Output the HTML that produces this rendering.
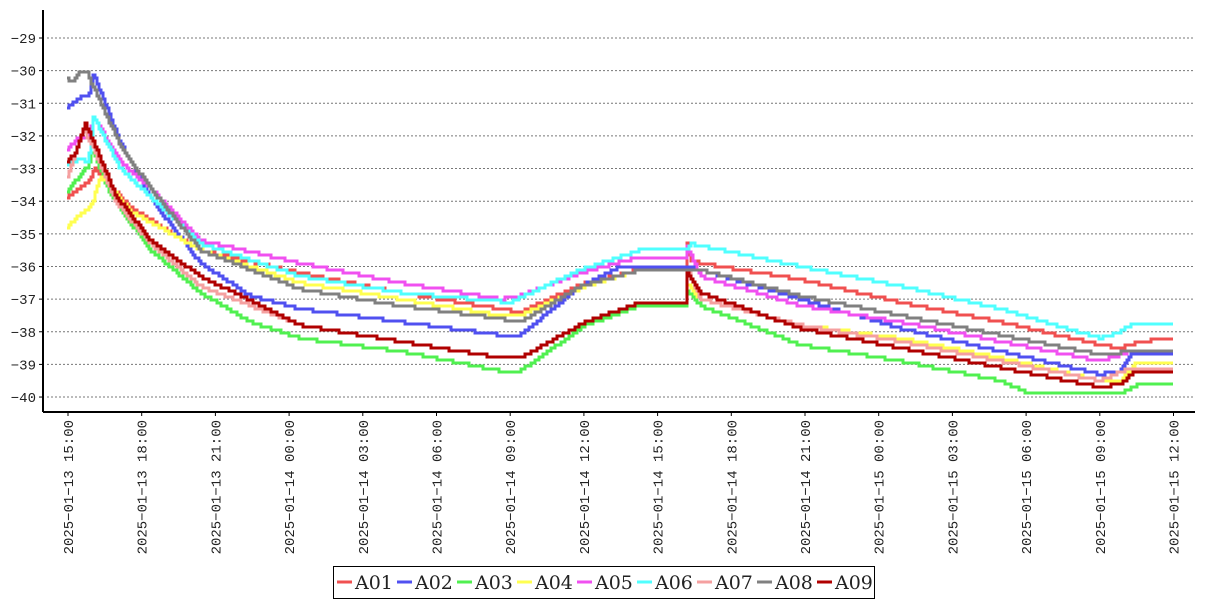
<!DOCTYPE html>
<html><head><meta charset="utf-8"><style>
body{margin:0;background:#fff;width:1207px;height:600px;overflow:hidden}
svg{display:block}
.tk{font-family:"Liberation Mono","DejaVu Sans Mono",monospace;font-size:14px;fill:#222}
.lg{font-family:"DejaVu Serif","Liberation Serif",serif;font-size:19px;fill:#222}
</style></head><body>
<svg id="s" width="1207" height="600" xmlns="http://www.w3.org/2000/svg">
<g id="grid"></g>
<g id="series" fill="none" stroke-width="3" stroke-linejoin="miter"></g>
<line x1="43" y1="10" x2="43" y2="412" stroke="#000" stroke-width="2"/>
<line x1="43" y1="412" x2="1195" y2="412" stroke="#000" stroke-width="2"/>
<g id="labels"></g>
<rect x="333.5" y="566.5" width="541" height="32" fill="#fff" stroke="#000"/>
<g id="legend"></g>
</svg>
<script>
var NS="http://www.w3.org/2000/svg";
function el(t,a,p,txt){var e=document.createElementNS(NS,t);for(var k in a)e.setAttribute(k,a[k]);if(txt!==undefined)e.textContent=txt;document.getElementById(p).appendChild(e);return e;}
function Y(v){return 38+(-29-v)*32.64;}
for(var v=-29;v>=-40;v--){var y=Y(v);
el('line',{x1:47,x2:1195,y1:y,y2:y,stroke:'#777','stroke-dasharray':'2,2','stroke-width':1},'grid');
el('line',{x1:39,x2:43,y1:y,y2:y,stroke:'#000'},'grid');
el('text',{x:36,y:y+5,'text-anchor':'end',class:'tk'},'labels',String(v).replace('-','−'));}
var labs=["2025-01-13 15:00","2025-01-13 18:00","2025-01-13 21:00","2025-01-14 00:00","2025-01-14 03:00","2025-01-14 06:00","2025-01-14 09:00","2025-01-14 12:00","2025-01-14 15:00","2025-01-14 18:00","2025-01-14 21:00","2025-01-15 00:00","2025-01-15 03:00","2025-01-15 06:00","2025-01-15 09:00","2025-01-15 12:00"];
for(var i=0;i<16;i++){var x=68+i*73.7;
el('line',{x1:x,x2:x,y1:412,y2:416,stroke:'#000'},'labels');
el('text',{x:0,y:0,transform:'translate('+(x+5)+',420) rotate(-90)','text-anchor':'end',class:'tk'},'labels',labs[i].replace(/-/g,'−'));}
var S=[
["A01","#f05050",[[67,-33.9],[80,-33.6],[88,-33.4],[95,-33.0],[130,-34.2],[200,-35.5],[300,-36.2],[400,-36.8],[500,-37.3],[520,-37.4],[585,-36.5],[640,-36.1],[685,-36.1],[686,-35.1],[690,-35.8],[700,-35.9],[800,-36.4],[900,-37.1],[1000,-37.7],[1100,-38.4],[1120,-38.5],[1140,-38.3],[1173,-38.2]]],
["A02","#5050f0",[[67,-31.1],[72,-31.0],[80,-30.8],[88,-30.8],[93,-30.1],[120,-32.2],[150,-33.9],[200,-35.9],[250,-36.9],[300,-37.3],[400,-37.7],[500,-38.1],[520,-38.1],[580,-36.6],[620,-36.0],[685,-36.0],[700,-36.1],[800,-37.0],[900,-37.9],[1000,-38.6],[1100,-39.3],[1120,-39.2],[1130,-38.7],[1173,-38.7]]],
["A03","#50f050",[[67,-33.7],[80,-33.2],[88,-32.9],[92,-32.4],[110,-33.8],[150,-35.5],[200,-36.8],[250,-37.7],[300,-38.2],[400,-38.6],[500,-39.2],[520,-39.2],[585,-37.8],[640,-37.2],[685,-37.2],[686,-36.7],[700,-37.2],[800,-38.4],[900,-38.9],[1000,-39.5],[1030,-39.9],[1120,-39.9],[1140,-39.6],[1173,-39.6]]],
["A04","#ffff50",[[67,-34.8],[80,-34.4],[92,-34.1],[100,-33.2],[130,-34.3],[200,-35.5],[300,-36.5],[400,-37.0],[500,-37.5],[520,-37.5],[585,-36.6],[640,-36.1],[685,-36.1],[686,-36.5],[700,-37.0],[800,-37.8],[900,-38.2],[1000,-38.8],[1100,-39.5],[1120,-39.5],[1135,-39.0],[1173,-39.0]]],
["A05","#f050f0",[[67,-32.4],[80,-32.0],[88,-32.1],[93,-31.4],[120,-32.8],[150,-33.6],[200,-35.2],[300,-35.9],[400,-36.5],[500,-37.0],[520,-36.9],[580,-36.2],[640,-35.7],[685,-35.7],[686,-35.3],[700,-36.3],[800,-37.2],[900,-37.7],[1000,-38.3],[1100,-38.9],[1130,-38.6],[1173,-38.6]]],
["A06","#50ffff",[[67,-32.9],[80,-32.7],[88,-32.8],[93,-31.4],[120,-33.0],[200,-35.3],[300,-36.3],[400,-36.8],[510,-37.1],[580,-36.1],[640,-35.5],[685,-35.5],[690,-35.3],[800,-36.0],[900,-36.6],[1000,-37.3],[1100,-38.2],[1120,-38.0],[1130,-37.8],[1173,-37.8]]],
["A07","#f5a0a0",[[67,-33.3],[75,-32.5],[83,-31.8],[92,-32.3],[115,-34.0],[150,-35.3],[200,-36.6],[300,-37.8],[400,-38.3],[500,-38.8],[520,-38.8],[585,-37.7],[640,-37.1],[685,-37.1],[686,-36.0],[700,-37.0],[800,-37.8],[900,-38.3],[1000,-38.9],[1100,-39.5],[1130,-39.1],[1173,-39.1]]],
["A08","#808080",[[67,-30.2],[72,-30.4],[80,-30.0],[86,-30.0],[90,-30.3],[120,-32.3],[150,-33.6],[200,-35.5],[300,-36.7],[400,-37.2],[500,-37.6],[520,-37.7],[580,-36.6],[640,-36.1],[685,-36.1],[700,-36.1],[800,-36.9],[900,-37.5],[1000,-38.1],[1100,-38.7],[1130,-38.6],[1173,-38.6]]],
["A09","#b00000",[[67,-32.8],[75,-32.5],[85,-31.6],[92,-32.1],[115,-33.8],[150,-35.2],[200,-36.3],[300,-37.8],[400,-38.3],[500,-38.8],[520,-38.8],[585,-37.7],[640,-37.1],[685,-37.1],[686,-36.2],[700,-36.8],[800,-37.9],[900,-38.5],[1000,-39.1],[1100,-39.7],[1120,-39.6],[1135,-39.2],[1173,-39.2]]]
];
function interp(p,x){for(var i=1;i<p.length;i++){if(x<=p[i][0]){var a=p[i-1],b=p[i];return a[1]+(b[1]-a[1])*(x-a[0])/(b[0]-a[0]);}}return p[p.length-1][1];}
S.forEach(function(s){var p=s[2],d='',prev=null;
for(var x=67;x<=1173;x+=2){var v=interp(p,x);var yv=Math.round(Y(v)/3)*3;
if(prev===null)d='M'+x+' '+yv;else{if(yv!==prev)d+=' L'+x+' '+prev+' L'+x+' '+yv;}prev=yv;}
d+=' L1173 '+prev;
el('path',{d:d,stroke:s[1]},'series');});
var lx=337;
S.forEach(function(s){el('line',{x1:lx,x2:lx+15,y1:582,y2:582,stroke:s[1],'stroke-width':3},'legend');
el('text',{x:lx+18,y:589,class:'lg'},'legend',s[0]);lx+=60;});
</script>
</body></html>
